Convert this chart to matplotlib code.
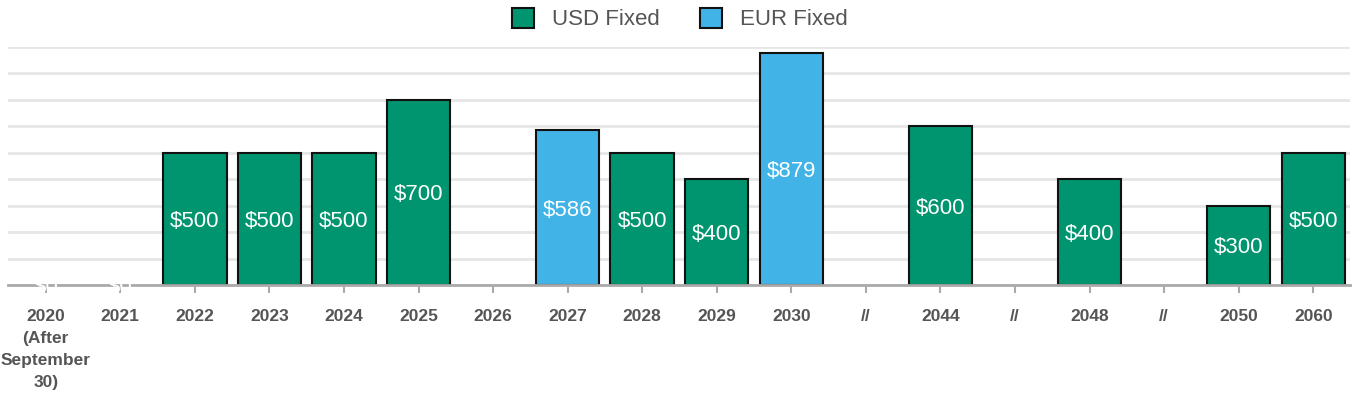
import matplotlib
matplotlib.use('Agg')
import matplotlib.pyplot as plt
from matplotlib.patches import Patch

plt.rcParams['font.family'] = ['Liberation Sans', 'DejaVu Sans']

# maturity buckets on the x axis
years = ['2020\n(After\nSeptember\n30)', '2021', '2022', '2023', '2024', '2025', '2026',
         '2027', '2028', '2029', '2030', '//', '2044', '//', '2048', '//', '2050', '2060']
# USD fixed notes ($M), None = no bar
usd = [0, 0, 500, 500, 500, 700, None, None, 500, 400, None, None, 600, None, 400, None, 300, 500]
# EUR fixed notes ($M)
eur = [None, None, None, None, None, None, None, 586, None, None, 879, None, None, None, None, None, None, None]

green = '#00956f'
blue = '#41b3e6'

fig = plt.figure(figsize=(13.6, 4), dpi=100)
ax = fig.add_axes([0.0062, 0.2875, 0.9868, 0.595])

x = list(range(len(years)))

def draw(vals, color):
    for i, v in enumerate(vals):
        if v is None:
            continue
        if v > 0:
            ax.bar(i, v, width=0.85, color=color, edgecolor='#111111', linewidth=1.5, zorder=3)
        ax.text(i, v / 2, '$%d' % v, color='white', ha='center', va='center_baseline',
                fontsize=16, zorder=6)

draw(usd, green)
draw(eur, blue)

ax.set_xlim(-0.5, len(years) - 0.5)
ax.set_ylim(0, 900)
ax.set_yticks(range(0, 1000, 100))
ax.yaxis.grid(True, color='#e6e6e6', linewidth=2)
ax.set_axisbelow(True)
ax.tick_params(axis='y', left=False, labelleft=False)

ax.set_xticks(x)
ax.set_xticklabels(years, fontsize=12.5, fontweight='bold', color='#555555', linespacing=1.6)
ax.tick_params(axis='x', length=6, width=1.5, color='#aaaaaa', pad=11)

for s in ['top', 'right', 'left']:
    ax.spines[s].set_visible(False)
ax.spines['bottom'].set_color('#aaaaaa')
ax.spines['bottom'].set_linewidth(2)
ax.spines['bottom'].set_zorder(5)

handles = [Patch(facecolor=green, edgecolor='#111111', linewidth=1.5, label='USD Fixed'),
           Patch(facecolor=blue, edgecolor='#111111', linewidth=1.5, label='EUR Fixed')]
fig.legend(handles=handles, loc='center', bbox_to_anchor=(0.5, 0.952), ncol=2, frameon=False,
           fontsize=16, labelcolor='#555555', handlelength=1.0, handleheight=1.0,
           columnspacing=1.8, handletextpad=0.8)

fig.savefig('out.png', dpi=100)
